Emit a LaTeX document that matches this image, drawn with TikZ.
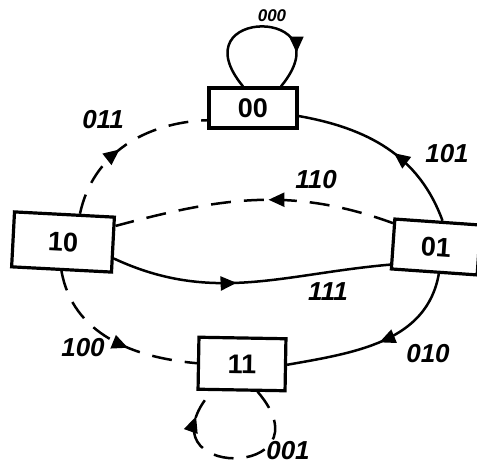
\documentclass[tikz,border=0pt]{standalone}
\usepackage{fontspec}
\setsansfont{Liberation Sans}
\usepackage{tikz}
\usetikzlibrary{arrows.meta,calc,decorations.markings}
\tikzset{
  statebox/.style={draw, line width=3.2pt, inner sep=0pt,
                   font=\sffamily\bfseries\fontsize{27}{29}\selectfont},
  lbl/.style={inner sep=0pt, font=\sffamily\bfseries\itshape\fontsize{26}{28}\selectfont},
  midarrow/.style={postaction={decorate},
    decoration={markings, mark=at position #1 with
      {\arrow{Triangle[length=16pt,width=14pt]}}}},
  trans/.style={line width=2.5pt},
  dtrans/.style={trans, dash pattern=on 20pt off 13pt}
}

\begin{document}
\begin{tikzpicture}[x=1pt, y=1pt]
  \useasboundingbox (0,0) rectangle (477,470);
  % states
  \node[statebox, minimum width=88pt, minimum height=40pt] (s00) at (253,362) {00};
  \node[statebox, minimum width=100pt, minimum height=55pt, rotate=-3] (s10) at (63,228) {10};
  \node[statebox, minimum width=86pt, minimum height=50pt, rotate=-4] (s01) at (436,223) {01};
  \node[statebox, minimum width=87pt, minimum height=52pt, rotate=-1] (s11) at (242,106) {11};
  % labels
  \node[lbl, font=\sffamily\bfseries\itshape\fontsize{17}{19}\selectfont] (l000) at (272,454) {000};
  \node[lbl] (l011) at (103,350) {011};
  \node[lbl] (l101) at (447,316) {101};
  \node[lbl] (l110) at (316,290) {110};
  \node[lbl] (l111) at (328,178) {111};
  \node[lbl] (l100) at (83,122) {100};
  \node[lbl] (l010) at (428,116) {010};
  \node[lbl] (l001) at (288,19) {001};
  % transitions
  \draw[trans, midarrow=0.78] ($(s00.north)+(-10,0)$)
    .. controls +(-66,80) and +(66,80) .. ($(s00.north)+(28,0)$);
  \draw[dtrans, midarrow=0.45] (s10.62) to[out=78, in=182] (s00.195);
  \draw[trans, midarrow=0.45] (s01.80) to[out=110, in=-10] (s00.-10);
  \draw[dtrans, midarrow=0.45] (s01.155) to[out=160, in=15] (s10.20);
  \draw[trans, midarrow=0.45] (s10.-15) to[out=-25, in=185] (s01.205);
  \draw[dtrans, midarrow=0.6] (s10.south) to[out=-80, in=175] (s11.180);
  \draw[trans, midarrow=0.5] (s01.-80) to[out=-100, in=10] (s11.0);
  \draw[dtrans, midarrow=0.85] ($(s11.south)+(16,0)$)
    .. controls +(76,-89) and +(-76,-89) .. ($(s11.south)+(-30,0)$);
\end{tikzpicture}
\end{document}
